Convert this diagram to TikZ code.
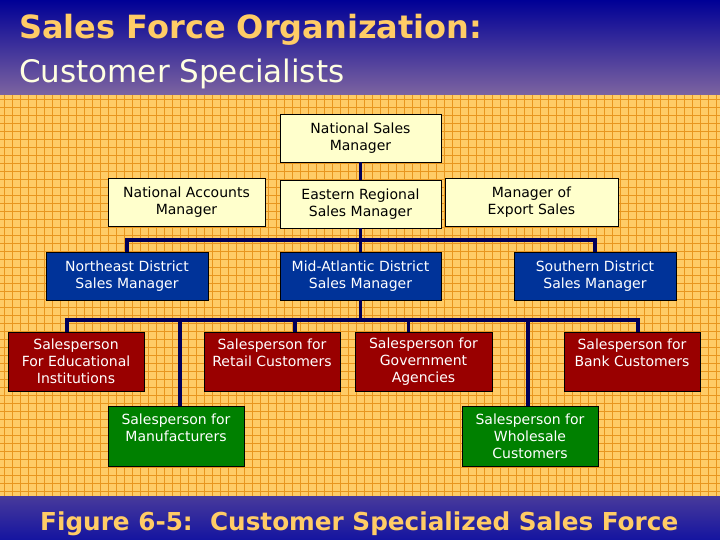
\documentclass[tikz,border=0pt]{standalone}
\usepackage{fontspec}
\setmainfont{DejaVu Sans}
\definecolor{hdrTop}{RGB}{0,0,150}
\definecolor{hdrBottom}{RGB}{125,100,160}
\definecolor{ftrTop}{RGB}{72,58,155}
\definecolor{ftrBottom}{RGB}{20,20,160}
\definecolor{gridBg}{RGB}{255,204,102}
\definecolor{gridLine}{RGB}{232,150,30}
\definecolor{titleGold}{RGB}{255,204,102}
\definecolor{titleCream}{RGB}{255,255,225}
\definecolor{mgrFill}{RGB}{255,255,204}
\definecolor{distFill}{RGB}{0,51,153}
\definecolor{repFill}{RGB}{153,0,0}
\definecolor{acctFill}{RGB}{0,128,0}
\definecolor{linkNavy}{RGB}{0,0,90}
\tikzstyle{boxbase} = [rectangle, draw=black, line width=0.8, align=center, inner sep=0, font=\fontsize{14}{17}\selectfont]
\tikzstyle{manager} = [boxbase, fill=mgrFill, text=black, minimum width=161, minimum height=48]
\tikzstyle{district} = [boxbase, fill=distFill, text=white, minimum width=162, minimum height=48]
\tikzstyle{salesperson} = [boxbase, fill=repFill, text=white, minimum width=136, minimum height=59]
\tikzstyle{specialist} = [boxbase, fill=acctFill, text=white, minimum width=136, minimum height=60]
\tikzstyle{link} = [draw=linkNavy, line width=3.5]

\begin{document}
\begin{tikzpicture}[x=1pt, y=-1pt]
\useasboundingbox (0,0) rectangle (720,540);
% background
\shade[top color=hdrTop, bottom color=hdrBottom] (0,0) rectangle (720,95);
\fill[gridBg] (0,95) rectangle (720,496);
\foreach \x in {4,12,...,716} \draw[gridLine, line width=0.9] (\x,95) -- (\x,496);
\foreach \y in {99,107,...,491} \draw[gridLine, line width=0.9] (0,\y) -- (720,\y);
\shade[top color=ftrTop, bottom color=ftrBottom] (0,496) rectangle (720,540);

% titles
\node (titleMain) [anchor=base west, inner sep=0, text=titleGold, font=\bfseries\fontsize{32}{36}\selectfont] at (19,39) {Sales Force Organization:};
\node (titleSub) [anchor=base west, inner sep=0, text=titleCream, font=\fontsize{31}{36}\selectfont] at (19,83) {Customer Specialists};
\node (figCaption) [anchor=base west, inner sep=0, text=titleGold, font=\bfseries\fontsize{24.7}{30}\selectfont] at (40,530) {Figure 6-5:\ \ Customer Specialized Sales Force};

% managers
\node (nationalSalesMgr) [manager] at (360.5,138) {National Sales\\Manager};
\node (nationalAccounts) [manager, minimum width=157] at (186.5,202) {National Accounts\\Manager};
\node (easternRegional) [manager] at (360.5,204) {Eastern Regional\\Sales Manager};
\node (exportSales) [manager, minimum width=173] at (531.5,202) {Manager of\\Export Sales};

% districts
\node (northeastDistrict) [district] at (127,276) {Northeast District\\Sales Manager};
\node (midAtlanticDistrict) [district, minimum width=161] at (360.5,276) {Mid-Atlantic District\\Sales Manager};
\node (southernDistrict) [district] at (595,276) {Southern District\\Sales Manager};

% salespeople
\node (eduSales) [salesperson] at (76,361.5) {Salesperson\\For Educational\\Institutions};
\node (retailSales) [salesperson] at (272,361.5) {Salesperson for\\Retail Customers\\\mbox{}};
\node (govSales) [salesperson, minimum width=137] at (423.5,361.5) {Salesperson for\\Government\\Agencies};
\node (bankSales) [salesperson] at (632,361.5) {Salesperson for\\Bank Customers\\\mbox{}};
\node (mfgSales) [specialist] at (176,436) {Salesperson for\\Manufacturers\\\mbox{}};
\node (wholesaleSales) [specialist] at (530,436) {Salesperson for\\Wholesale\\Customers};

% connectors
\coordinate (districtBus) at (360.5,240);
\coordinate (salesBus) at (360.5,320);
\draw [link] (nationalSalesMgr) -- (easternRegional);
\draw [link] (easternRegional) -- (midAtlanticDistrict);
\draw [link] (northeastDistrict.north) |- (districtBus) -| (southernDistrict.north);
\draw [link] (midAtlanticDistrict) -- (salesBus);
\draw [link] ([xshift=-9pt]eduSales.north) |- (salesBus) -| ([xshift=6pt]bankSales.north);
\draw [link] ([xshift=4pt]mfgSales.north) |- (salesBus);
\draw [link] ([xshift=23pt]retailSales.north) |- (salesBus);
\draw [link] ([xshift=-15pt]govSales.north) |- (salesBus);
\draw [link] ([xshift=-2pt]wholesaleSales.north) |- (salesBus);
\end{tikzpicture}
\end{document}
